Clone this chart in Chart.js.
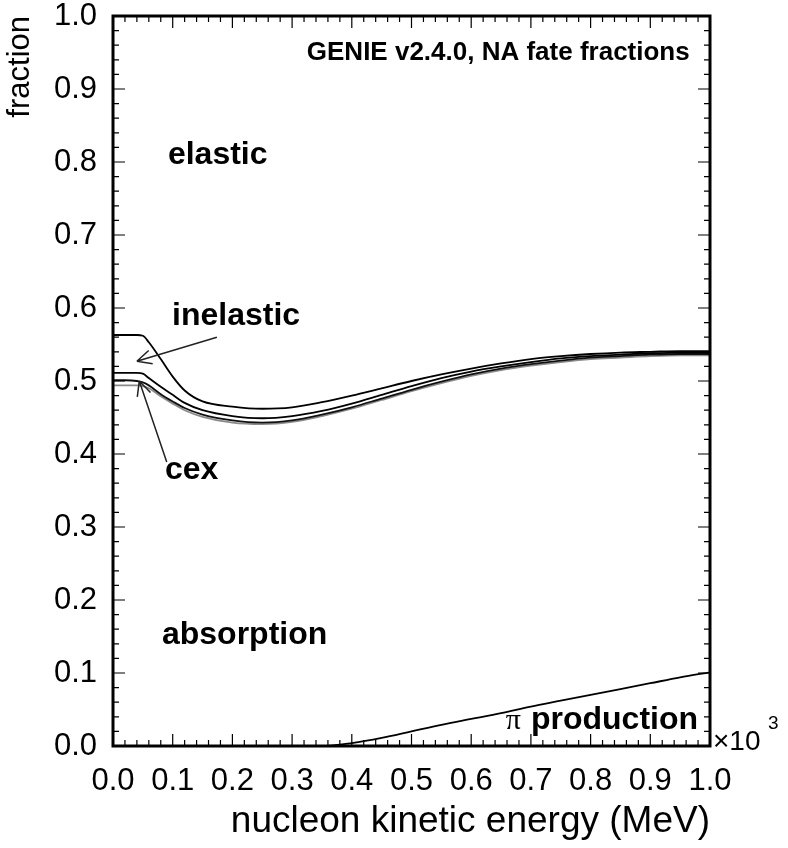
<!DOCTYPE html>
<html>
<head>
<meta charset="utf-8">
<script src="https://cdn.jsdelivr.net/npm/chart.js@4/dist/chart.umd.min.js"></script>
<style>
  body { margin: 0; background: #fff; }
</style>
</head>
<body>
<canvas id="fates" width="788" height="848"></canvas>
<script>
// kinetic energy in units of 10^3 MeV
const energy = [0, 0.02, 0.04, 0.05, 0.06, 0.08, 0.1, 0.12, 0.15, 0.2, 0.25, 0.3, 0.35,
  0.4, 0.45, 0.5, 0.55, 0.6, 0.65, 0.7, 0.75, 0.8, 0.85, 0.9, 0.95, 1.0];

// cumulative fate fractions (boundaries between the regions)
const elasticEdge = [0.563, 0.563, 0.563, 0.562, 0.553, 0.530, 0.506, 0.487, 0.472, 0.465, 0.462, 0.464, 0.471,
  0.480, 0.490, 0.500, 0.509, 0.517, 0.524, 0.530, 0.534, 0.537, 0.539, 0.540, 0.541, 0.541];
const inelasticEdge = [0.511, 0.511, 0.511, 0.510, 0.504, 0.492, 0.481, 0.470, 0.460, 0.452, 0.449, 0.452, 0.459,
  0.469, 0.481, 0.493, 0.504, 0.513, 0.520, 0.526, 0.531, 0.534, 0.536, 0.538, 0.539, 0.539];
const cexEdge = [0.501, 0.501, 0.500, 0.498, 0.494, 0.482, 0.472, 0.463, 0.454, 0.446, 0.443, 0.446, 0.454,
  0.464, 0.476, 0.488, 0.499, 0.509, 0.517, 0.523, 0.528, 0.532, 0.534, 0.536, 0.537, 0.537];
const cexEdgeLow = [0.494, 0.494, 0.494, 0.493, 0.490, 0.479, 0.469, 0.460, 0.451, 0.443, 0.441, 0.444, 0.452,
  0.462, 0.474, 0.486, 0.497, 0.507, 0.515, 0.521, 0.526, 0.530, 0.532, 0.534, 0.535, 0.535];
const piProduction = [0, 0, 0, 0, 0, 0, 0, 0, 0, 0, 0, 0, 0,
  0.004, 0.011, 0.020, 0.029, 0.037, 0.045, 0.054, 0.062, 0.070, 0.078, 0.086, 0.094, 0.101];

// region labels: [text, x, y, align]
const regionLabels = [
  ["elastic", 0.092, 0.81, "left"],
  ["inelastic", 0.099, 0.589, "left"],
  ["cex", 0.087, 0.378, "left"],
  ["absorption", 0.082, 0.152, "left"],
  ["production", 0.98, 0.036, "right"]
];
// arrows: [fromX, fromY, toX, toY]
const arrows = [
  [0.174, 0.560, 0.040, 0.527],
  [0.090, 0.389, 0.044, 0.500]
];

const FONT = "'Liberation Sans', Arial, Helvetica, sans-serif";

function pts(ys) {
  return energy.map((x, i) => ({ x: x, y: ys[i] }));
}

function line(ys, color) {
  return {
    data: pts(ys),
    borderColor: color,
    borderWidth: 1.8,
    pointRadius: 0,
    fill: false,
    cubicInterpolationMode: "monotone"
  };
}

const framePlugin = {
  id: "frame",
  afterDraw(chart) {
    const ctx = chart.ctx;
    const a = chart.chartArea;
    const xs = chart.scales.x, ys = chart.scales.y;
    ctx.save();
    ctx.strokeStyle = "#000";
    ctx.lineWidth = 1.2;
    ctx.beginPath();
    for (let i = 0; i <= 50; i++) {
      const v = i / 50;
      const len = i % 5 === 0 ? 12 : 6;
      const px = xs.getPixelForValue(v);
      ctx.moveTo(px, a.bottom); ctx.lineTo(px, a.bottom - len);
      ctx.moveTo(px, a.top); ctx.lineTo(px, a.top + len);
      const py = ys.getPixelForValue(v);
      ctx.moveTo(a.left, py); ctx.lineTo(a.left + len, py);
      ctx.moveTo(a.right, py); ctx.lineTo(a.right - len, py);
    }
    ctx.stroke();
    ctx.lineWidth = 3;
    ctx.strokeRect(a.left, a.top, a.right - a.left, a.bottom - a.top);

    // labels
    ctx.fillStyle = "#000";
    ctx.textBaseline = "middle";
    ctx.font = "bold 32px " + FONT;
    let prodLeft = 0;
    regionLabels.forEach(([t, x, y, al]) => {
      ctx.textAlign = al;
      const px = xs.getPixelForValue(x);
      ctx.fillText(t, px, ys.getPixelForValue(y));
      if (t === "production") prodLeft = px - ctx.measureText(t).width;
    });
    // greek pi drawn in a serif face, as in the original
    ctx.font = "30px 'Liberation Serif', 'DejaVu Serif', serif";
    ctx.textAlign = "right";
    ctx.fillText("\u03c0", prodLeft - 10, ys.getPixelForValue(0.036) + 1);

    ctx.font = "bold 26px " + FONT;
    ctx.fillText("GENIE v2.4.0, NA fate fractions", xs.getPixelForValue(0.966), ys.getPixelForValue(0.949));

    // x10^3 multiplier
    ctx.textAlign = "left";
    ctx.font = "28px " + FONT;
    ctx.fillText("\u00d710", a.right + 3, a.bottom - 4);
    ctx.font = "19px " + FONT;
    ctx.fillText("3", a.right + 58, a.bottom - 22);

    // arrows
    ctx.lineWidth = 1.5;
    ctx.strokeStyle = "#222";
    arrows.forEach(([x0, y0, x1, y1]) => {
      const p0 = [xs.getPixelForValue(x0), ys.getPixelForValue(y0)];
      const p1 = [xs.getPixelForValue(x1), ys.getPixelForValue(y1)];
      const ang = Math.atan2(p1[1] - p0[1], p1[0] - p0[0]);
      ctx.beginPath();
      ctx.moveTo(p0[0], p0[1]);
      ctx.lineTo(p1[0], p1[1]);
      for (const d of [0.45, -0.45]) {
        ctx.moveTo(p1[0], p1[1]);
        ctx.lineTo(p1[0] - 16 * Math.cos(ang + d), p1[1] - 16 * Math.sin(ang + d));
      }
      ctx.stroke();
    });
    ctx.restore();
  }
};

new Chart(document.getElementById("fates"), {
  type: "line",
  data: {
    datasets: [
      line(elasticEdge, "#000"),
      line(inelasticEdge, "#000"),
      line(cexEdge, "#111"),
      line(cexEdgeLow, "#8a8a8a"),
      line(piProduction, "#000")
    ]
  },
  options: {
    responsive: false,
    animation: false,
    layout: { padding: { top: 16, right: 78, left: 0, bottom: 0 } },
    plugins: { legend: { display: false }, tooltip: { enabled: false } },
    scales: {
      x: {
        type: "linear",
        min: 0, max: 1,
        grid: { display: false, drawTicks: false },
        border: { display: false },
        ticks: {
          stepSize: 0.1,
          padding: 17,
          color: "#000",
          font: { family: FONT, size: 31 },
          maxRotation: 0,
          callback: v => v.toFixed(1)
        },
        title: {
          display: true,
          text: "nucleon kinetic energy (MeV)",
          align: "end",
          color: "#000",
          font: { family: FONT, size: 37 },
          padding: { top: 2, bottom: 4 }
        },
        afterFit: s => { s.height = 102; s.paddingLeft = 0; s.paddingRight = 0; }
      },
      y: {
        min: 0, max: 1,
        grid: { display: false, drawTicks: false },
        border: { display: false },
        ticks: {
          stepSize: 0.1,
          padding: 16,
          color: "#000",
          font: { family: FONT, size: 31 },
          callback: v => v.toFixed(1)
        },
        title: {
          display: true,
          text: "fraction",
          align: "end",
          color: "#000",
          font: { family: FONT, size: 31 },
          padding: { top: 2, bottom: 0 }
        },
        afterFit: s => { s.width = 113; s.paddingTop = 0; s.paddingBottom = 0; }
      }
    }
  },
  plugins: [framePlugin]
});
</script>
</body>
</html>
